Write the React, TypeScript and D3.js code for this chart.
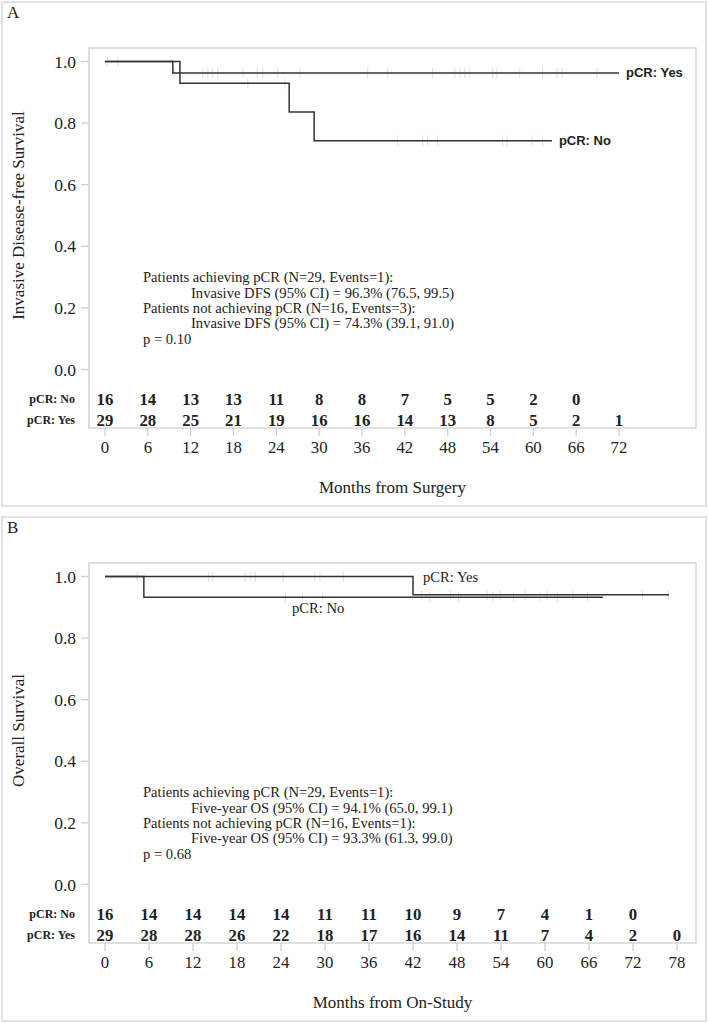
import React from "react";
import * as d3 from "d3";

// ---------- Panel A data (Invasive DFS) ----------
const aTimes = [0, 6, 12, 18, 24, 30, 36, 42, 48, 54, 60, 66, 72];
const aRiskNo = [16, 14, 13, 13, 11, 8, 8, 7, 5, 5, 2, 0];
const aRiskYes = [29, 28, 25, 21, 19, 16, 16, 14, 13, 8, 5, 2, 1];
const aStepsYes = [[0, 1], [9.5, 0.963]];
const aEndYes = 72;
const aStepsNo = [[0, 1], [10.5, 0.929], [25.8, 0.836], [29.3, 0.743]];
const aEndNo = 62.6;
const aCensorYes = [0.3, 1.8, 9.7, 13.7, 14.4, 15.1, 15.8, 19.3, 21.3, 22.1, 24.2, 27.3, 36.8, 39.6, 45.9, 49, 49.7, 50.4, 51.1, 54.3, 54.9, 58.1, 61.3, 63.3, 64, 68.9];
const aCensorNo = [20, 25.2, 41, 44.5, 45.2, 46.6, 55.7, 56.3, 59.8, 61.3];
const aText = [
  "Patients achieving pCR (N=29, Events=1):",
  "Invasive DFS (95% CI) = 96.3% (76.5, 99.5)",
  "Patients not achieving pCR (N=16, Events=3):",
  "Invasive DFS (95% CI) = 74.3% (39.1, 91.0)",
  "p = 0.10",
];

// ---------- Panel B data (Overall Survival) ----------
const bTimes = [0, 6, 12, 18, 24, 30, 36, 42, 48, 54, 60, 66, 72, 78];
const bRiskNo = [16, 14, 14, 14, 14, 11, 11, 10, 9, 7, 4, 1, 0];
const bRiskYes = [29, 28, 28, 26, 22, 18, 17, 16, 14, 11, 7, 4, 2, 0];
const bStepsYes = [[0, 1], [42, 0.941]];
const bEndYes = 76.9;
const bStepsNo = [[0, 1], [5.3, 0.933]];
const bEndNo = 67.9;
const bCensorYes = [4.4, 14.1, 14.7, 19.1, 19.8, 20.5, 24.3, 28.6, 29.3, 32.5, 43.2, 47.1, 52.1, 53.9, 57.3, 60.3, 63.8, 73.3, 76.8];
const bCensorNo = [24.6, 26.9, 29.7, 44.3, 48.2, 52.9, 55.7, 59.3, 61.7, 65.8];
const bText = [
  "Patients achieving pCR (N=29, Events=1):",
  "Five-year OS (95% CI) = 94.1% (65.0, 99.1)",
  "Patients not achieving pCR (N=16, Events=1):",
  "Five-year OS (95% CI) = 93.3% (61.3, 99.0)",
  "p = 0.68",
];

const yTicks = [0, 0.2, 0.4, 0.6, 0.8, 1.0];
const SERIF = "'Liberation Serif', 'Times New Roman', serif";
const SANS = "'Liberation Sans', Arial, sans-serif";
const INK = "#222";
const FRAME = "#cfcfcf";
const LINE = "#333";

function survAt(steps: number[][], t: number) {
  let s = steps[0][1];
  for (const [tt, v] of steps) if (tt <= t) s = v;
  return s;
}

function stepPath(steps: number[][], end: number, x: any, y: any) {
  const pts: [number, number][] = [];
  steps.forEach(([t, s], i) => {
    if (i > 0) pts.push([x(t), y(steps[i - 1][1])]);
    pts.push([x(t), y(s)]);
  });
  pts.push([x(end), y(steps[steps.length - 1][1])]);
  return d3.line()(pts) || "";
}

type PanelProps = {
  letter: string;
  top: number;
  times: number[];
  riskNo: number[];
  riskYes: number[];
  stepsYes: number[][];
  endYes: number;
  stepsNo: number[][];
  endNo: number;
  censorYes: number[];
  censorNo: number[];
  text: string[];
  yTitle: string;
  xTitle: string;
  xMax: number;
  xRight: number;
  curveLabels: (x: any, y: any) => React.ReactNode;
};

function Panel(p: PanelProps) {
  const t = p.top;
  const frameL = 89, frameR = 696, frameT = t + 46, frameB = t + 426;
  const y = d3.scaleLinear().domain([0, 1]).range([t + 367.5, t + 59.5]);
  const x = d3.scaleLinear().domain([0, p.xMax]).range([105, p.xRight]);
  const rowNo = t + 397, rowYes = t + 418;
  return (
    <g>
      <rect x={2} y={t} width={704} height={504} fill="none" stroke="#e2e2e2" strokeWidth={2} />
      <text x={7} y={t + 16} fontFamily={SERIF} fontSize={17} fill={INK}>{p.letter}</text>
      <rect x={frameL} y={frameT} width={frameR - frameL} height={frameB - frameT} fill="none" stroke={FRAME} strokeWidth={1.3} />
      {yTicks.map((v) => (
        <g key={v}>
          <line x1={81} x2={frameL} y1={y(v)} y2={y(v)} stroke={FRAME} strokeWidth={1.3} />
          <text x={76} y={y(v)} dy="0.35em" textAnchor="end" fontFamily={SERIF} fontSize={17.5} fill={INK}>{v.toFixed(1)}</text>
        </g>
      ))}
      <text transform={`translate(24,${(y(0) + y(1)) / 2}) rotate(-90)`} textAnchor="middle" fontFamily={SERIF} fontSize={17} fill={INK}>{p.yTitle}</text>
      {p.times.map((m) => (
        <g key={m}>
          <line x1={x(m)} x2={x(m)} y1={frameB} y2={frameB + 8} stroke={FRAME} strokeWidth={1.3} />
          <text x={x(m)} y={frameB + 19} dy="0.35em" textAnchor="middle" fontFamily={SERIF} fontSize={16.8} fill={INK}>{m}</text>
        </g>
      ))}
      <text x={(frameL + frameR) / 2} y={frameB + 59} dy="0.35em" textAnchor="middle" fontFamily={SERIF} fontSize={17} fill={INK}>{p.xTitle}</text>
      {/* risk table */}
      <text x={75} y={rowNo} dy="0.35em" textAnchor="end" fontFamily={SERIF} fontWeight="bold" fontSize={12} fill={INK}>pCR: No</text>
      <text x={75} y={rowYes} dy="0.35em" textAnchor="end" fontFamily={SERIF} fontWeight="bold" fontSize={12} fill={INK}>pCR: Yes</text>
      {p.riskNo.map((n, i) => (
        <text key={"n" + i} x={x(p.times[i])} y={rowNo} dy="0.35em" textAnchor="middle" fontFamily={SERIF} fontWeight="bold" fontSize={16.8} fill={INK}>{n}</text>
      ))}
      {p.riskYes.map((n, i) => (
        <text key={"y" + i} x={x(p.times[i])} y={rowYes} dy="0.35em" textAnchor="middle" fontFamily={SERIF} fontWeight="bold" fontSize={16.8} fill={INK}>{n}</text>
      ))}
      {/* censor marks */}
      {p.censorYes.map((c, i) => (
        <line key={"cy" + i} x1={x(c)} x2={x(c)} y1={y(survAt(p.stepsYes, c)) - 5} y2={y(survAt(p.stepsYes, c)) + 5} stroke="#dedede" strokeWidth={1} />
      ))}
      {p.censorNo.map((c, i) => (
        <line key={"cn" + i} x1={x(c)} x2={x(c)} y1={y(survAt(p.stepsNo, c)) - 5} y2={y(survAt(p.stepsNo, c)) + 5} stroke="#dedede" strokeWidth={1} />
      ))}
      <path d={stepPath(p.stepsNo, p.endNo, x, y)} fill="none" stroke={LINE} strokeWidth={1.5} />
      <path d={stepPath(p.stepsYes, p.endYes, x, y)} fill="none" stroke={LINE} strokeWidth={1.5} />
      {p.curveLabels(x, y)}
      {/* annotation text */}
      {p.text.map((s, i) => (
        <text key={"t" + i} x={i === 1 || i === 3 ? 191 : 143} y={y(0.2) + (i - 2) * 15.3} dy="0.35em" fontFamily={SERIF} fontSize={14.6} fill={INK}>{s}</text>
      ))}
    </g>
  );
}

export default function App() {
  return (
    <svg width={709} height={1023} style={{ position: "absolute", left: 0, top: 0, background: "#fff" }}>
      <Panel
        letter="A" top={2} times={aTimes} riskNo={aRiskNo} riskYes={aRiskYes}
        stepsYes={aStepsYes} endYes={aEndYes} stepsNo={aStepsNo} endNo={aEndNo}
        censorYes={aCensorYes} censorNo={aCensorNo} text={aText}
        yTitle="Invasive Disease-free Survival" xTitle="Months from Surgery"
        xMax={72} xRight={619}
        curveLabels={(x, y) => (
          <g fontFamily={SANS} fontWeight="bold" fontSize={13} fill={INK}>
            <text x={x(aEndYes) + 7} y={y(aStepsYes[aStepsYes.length - 1][1])} dy="0.35em">pCR: Yes</text>
            <text x={x(aEndNo) + 7} y={y(aStepsNo[aStepsNo.length - 1][1])} dy="0.35em">pCR: No</text>
          </g>
        )}
      />
      <Panel
        letter="B" top={517} times={bTimes} riskNo={bRiskNo} riskYes={bRiskYes}
        stepsYes={bStepsYes} endYes={bEndYes} stepsNo={bStepsNo} endNo={bEndNo}
        censorYes={bCensorYes} censorNo={bCensorNo} text={bText}
        yTitle="Overall Survival" xTitle="Months from On-Study"
        xMax={78} xRight={677}
        curveLabels={(x, y) => (
          <g fontFamily={SERIF} fontSize={14.6} fill={INK}>
            <text x={x(42) + 10} y={y(1)} dy="0.35em">pCR: Yes</text>
            <text x={292} y={y(bStepsNo[1][1]) + 11} dy="0.35em">pCR: No</text>
          </g>
        )}
      />
    </svg>
  );
}
